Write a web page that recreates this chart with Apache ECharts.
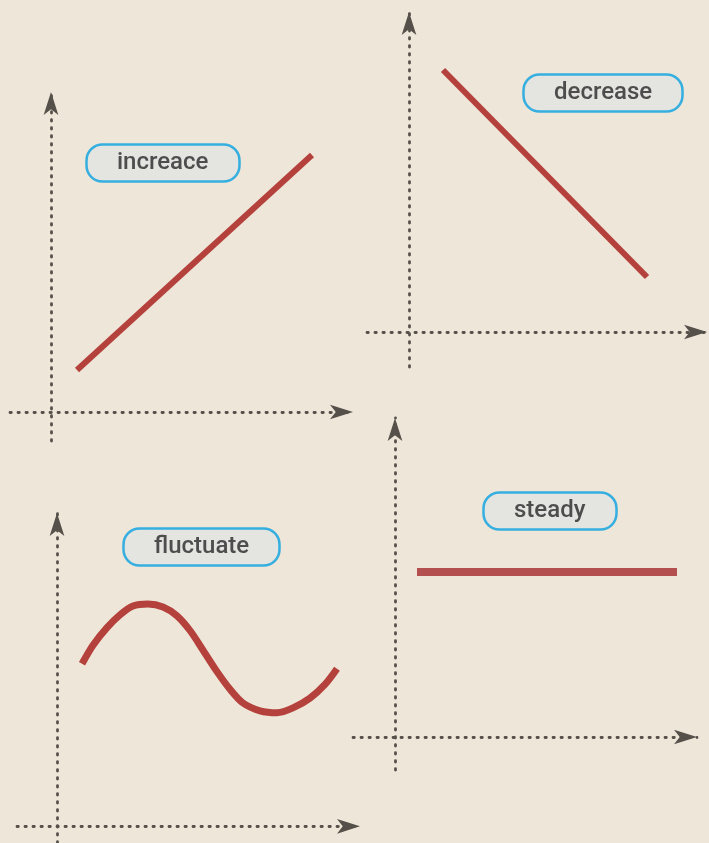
<!DOCTYPE html>
<html>
<head>
<meta charset="utf-8">
<script src="https://cdn.jsdelivr.net/npm/echarts@6/dist/echarts.min.js"></script>
<style>
  html, body { margin: 0; padding: 0; background: #eee6d8; }
  #main { width: 709px; height: 843px; }
</style>
</head>
<body>
<div id="main"></div>
<script>
// four trend sketches, units are arbitrary (no ticks in the picture)
var labels = ['increace', 'decrease', 'fluctuate', 'steady'];

var increaseData = [[2.6, 4.2], [26.1, 25.7]];
var decreaseData = [[3.4, 26.2], [23.8, 5.5]];
var fluctuateData = [
    [2.5, 16.6], [3.6, 18.5], [5.0, 20.3], [6.3, 21.6], [7.6, 22.5], [9.1, 22.7],
    [10.6, 22.4], [12.0, 21.5], [13.3, 20.0], [14.6, 18.0], [16.0, 15.8], [17.3, 14.0],
    [18.6, 12.6], [20.3, 11.8], [22.0, 11.6], [23.6, 12.1], [25.3, 13.1], [26.8, 14.5], [28.0, 16.1]
];
var steadyData = [[2.2, 16.5], [28.2, 16.5]];

// axis ranges per panel: [xMin, xMax, yMin, yMax]
var ranges = [
    [-4.1, 30.2, -2.9, 32.0],
    [-4.2, 29.8, -3.5, 32.0],
    [-4.0, 30.3, -1.7, 32.0],
    [-4.2, 30.2, -3.3, 31.9]
];

var grids = [
    {left: 10, top: 92, width: 343, height: 349},
    {left: 367, top: 12, width: 340, height: 355},
    {left: 17, top: 513, width: 343, height: 337},
    {left: 353, top: 418, width: 344, height: 352}
];

var labelPos = [[86, 144], [523, 74], [123, 528], [483, 492]];

var dotColor = '#56504a';
var red = '#b5413d';

function axisLine() {
    return {
        show: true,
        onZero: true,
        symbol: ['none', 'arrow'],
        symbolSize: [11, 23],
        lineStyle: {color: dotColor, width: 2.8, type: [1.3, 6.7]}
    };
}

var xAxis = [], yAxis = [], titles = [];
for (var i = 0; i < 4; i++) {
    xAxis.push({
        type: 'value', gridIndex: i, min: ranges[i][0], max: ranges[i][1],
        axisLine: axisLine(), axisTick: {show: false}, axisLabel: {show: false}, splitLine: {show: false}
    });
    yAxis.push({
        type: 'value', gridIndex: i, min: ranges[i][2], max: ranges[i][3],
        axisLine: axisLine(), axisTick: {show: false}, axisLabel: {show: false}, splitLine: {show: false}
    });
    titles.push({
        text: labels[i],
        left: labelPos[i][0],
        top: labelPos[i][1],
        padding: [7, 31],
        backgroundColor: '#e4e4e1',
        borderColor: '#35aee0',
        borderWidth: 2.5,
        borderRadius: 16,
        textStyle: {fontFamily: 'Roboto', fontWeight: 500, fontSize: 24, color: '#4d4d4d'}
    });
}

function lineSeries(idx, data, w, color, smooth) {
    return {
        type: 'line', xAxisIndex: idx, yAxisIndex: idx, data: data,
        showSymbol: false, smooth: smooth,
        lineStyle: {width: w, color: color, cap: 'butt'}
    };
}

var myChart = echarts.init(document.getElementById('main'));
var option = {
    backgroundColor: '#eee6d8',
    animation: false,
    title: titles,
    grid: grids,
    xAxis: xAxis,
    yAxis: yAxis,
    series: [
        lineSeries(0, increaseData, 6, red, false),
        lineSeries(1, decreaseData, 6, red, false),
        lineSeries(2, fluctuateData, 7, red, 0.3),
        lineSeries(3, steadyData, 8, '#b3504f', false)
    ]
};
myChart.setOption(option);
</script>
</body>
</html>
